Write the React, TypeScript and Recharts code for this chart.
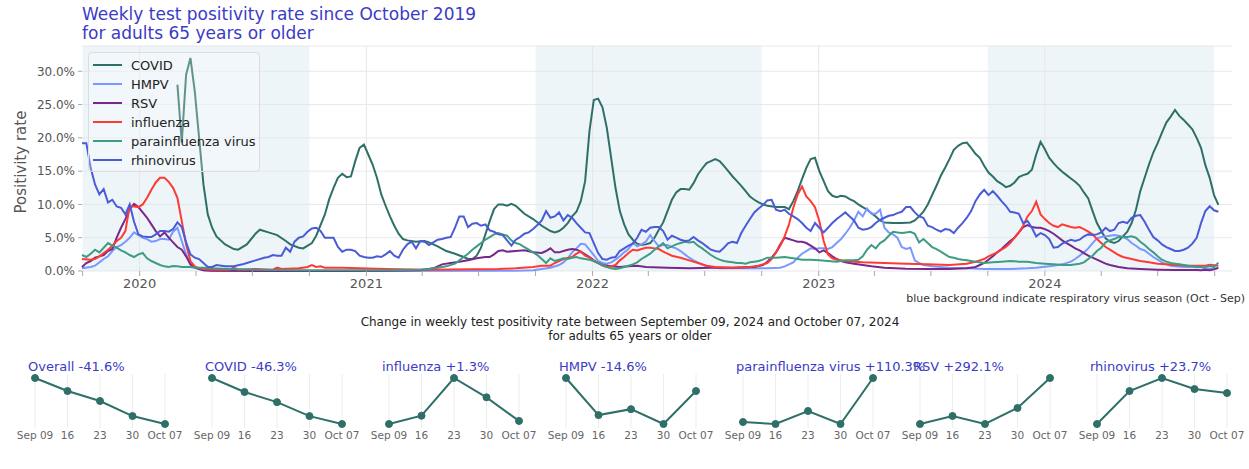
import { LineChart, Line, XAxis, YAxis, CartesianGrid, ReferenceArea, ReferenceLine } from 'recharts';

// weekly data, x = weeks since Monday 2019-09-30, y = positivity rate in %
const covid: [number, number][] = [
  [22, 28.0], [23, 19.3], [24, 29.5], [25, 32.0], [26, 27.0], [27, 20.0], [28, 13.0], [29, 8.5], [30, 6.5], [31, 5.2],
  [33, 4.0], [35, 3.3], [36, 3.2], [38, 4.0], [40, 5.6], [41, 6.2], [43, 5.8], [45, 5.4], [47, 4.5], [48, 4.0],
  [50, 3.5], [51, 3.4], [53, 4.2], [54, 5.3], [56, 8.5], [57, 10.8], [58, 12.5], [59, 14.0], [60, 14.6], [61, 14.1],
  [62, 14.2], [63, 16.5], [64, 18.5], [65, 19.0], [66, 17.5], [67, 16.0], [68, 14.0], [69, 11.5], [70, 9.8], [71, 8.2],
  [72, 6.8], [73, 5.6], [74, 4.8], [75, 4.6], [77, 4.4], [79, 4.5], [80, 4.3], [82, 3.7], [84, 3.0], [86, 2.6],
  [88, 2.1], [89, 1.8], [90, 1.8], [91, 2.3], [92, 3.5], [93, 5.5], [94, 7.5], [95, 9.3], [96, 10.0], [97, 10.0],
  [98, 9.8], [99, 10.1], [100, 9.8], [101, 9.2], [102, 8.6], [104, 7.8], [106, 6.8], [108, 6.0], [109, 5.8], [110, 6.0],
  [111, 6.5], [112, 7.2], [113, 8.2], [114, 8.9], [115, 10.5], [116, 13.5], [117, 21.0], [118, 25.7], [119, 25.9], [120, 24.6],
  [121, 21.5], [122, 17.0], [123, 12.5], [124, 9.0], [125, 7.0], [126, 5.5], [127, 4.7], [128, 4.1], [129, 3.9], [130, 4.0],
  [131, 4.2], [132, 5.0], [133, 6.2], [134, 7.3], [135, 9.0], [136, 10.7], [137, 11.8], [138, 12.3], [139, 12.3], [140, 12.2],
  [141, 13.2], [142, 14.5], [143, 15.4], [144, 16.2], [145, 16.5], [146, 16.8], [147, 16.5], [148, 15.8], [149, 15.0], [150, 14.2],
  [151, 13.5], [152, 12.8], [153, 12.0], [154, 11.2], [155, 10.7], [156, 10.3], [157, 10.0], [158, 9.8], [160, 9.6], [162, 9.6],
  [163, 9.3], [164, 10.5], [165, 12.0], [166, 13.8], [167, 15.5], [168, 16.8], [169, 17.0], [170, 15.0], [171, 13.5], [172, 12.0],
  [173, 11.3], [174, 11.1], [175, 11.3], [176, 11.2], [177, 10.8], [178, 10.5], [179, 10.0], [180, 9.6], [181, 9.2], [182, 8.7],
  [183, 8.2], [184, 7.6], [185, 7.3], [187, 7.2], [189, 7.2], [191, 7.3], [192, 7.6], [193, 8.2], [194, 8.9], [195, 10.0],
  [196, 11.4], [197, 12.8], [198, 14.3], [199, 15.5], [200, 16.8], [201, 18.2], [202, 18.8], [203, 19.2], [204, 19.3], [205, 18.5],
  [206, 17.6], [207, 17.0], [208, 15.8], [209, 14.8], [210, 14.2], [211, 13.5], [212, 13.1], [213, 12.6], [214, 12.8], [215, 13.3],
  [216, 14.1], [217, 14.4], [218, 14.6], [219, 15.2], [220, 17.5], [221, 19.4], [222, 18.3], [223, 17.0], [224, 16.2], [225, 15.5],
  [226, 14.9], [227, 14.4], [228, 13.9], [229, 13.4], [230, 12.8], [231, 11.8], [232, 10.9], [233, 9.0], [234, 7.2], [235, 6.0],
  [236, 4.9], [237, 4.4], [238, 4.2], [239, 4.5], [240, 5.2], [241, 5.9], [242, 7.2], [243, 9.2], [244, 12.0], [245, 14.0],
  [246, 16.0], [247, 17.8], [248, 19.2], [249, 20.8], [250, 22.3], [251, 23.2], [252, 24.2], [253, 23.3], [254, 22.7], [255, 22.0],
  [256, 21.3], [257, 20.0], [258, 18.5], [259, 15.9], [260, 14.0], [261, 11.4], [262, 9.93],
];

const hmpv: [number, number][] = [
  [0, 0.4], [2, 0.6], [3, 0.8], [4, 1.3], [5, 1.8], [6, 2.2], [7, 3.0], [8, 3.6], [9, 3.9], [10, 4.4],
  [11, 5.0], [12, 5.8], [13, 5.4], [14, 5.0], [15, 4.8], [16, 4.4], [17, 4.5], [18, 4.8], [19, 4.8], [20, 4.7],
  [21, 5.9], [22, 6.5], [23, 4.5], [24, 2.5], [25, 1.0], [26, 0.5], [27, 0.3], [28, 0.1], [30, 0.05], [60, 0.0],
  [100, 0.05], [104, 0.1], [106, 0.3], [108, 0.5], [110, 0.9], [111, 1.3], [112, 1.9], [113, 2.8], [114, 3.4], [115, 4.1],
  [116, 4.0], [117, 3.2], [118, 2.4], [119, 1.5], [120, 1.2], [121, 1.1], [122, 1.3], [123, 1.7], [124, 2.2], [125, 2.8],
  [126, 3.3], [127, 4.2], [128, 3.7], [129, 4.0], [130, 4.4], [131, 5.4], [132, 4.5], [133, 3.7], [134, 3.9], [135, 3.9],
  [136, 3.6], [137, 3.4], [138, 3.0], [139, 2.5], [140, 2.0], [141, 1.6], [142, 1.3], [143, 1.0], [144, 0.7], [145, 0.6],
  [147, 0.4], [150, 0.4], [155, 0.4], [158, 0.4], [161, 0.5], [162, 0.7], [163, 1.0], [164, 1.3], [165, 2.0], [166, 2.6],
  [167, 3.0], [168, 3.4], [169, 3.3], [170, 3.4], [171, 3.4], [172, 3.3], [173, 3.6], [174, 4.2], [175, 4.8], [176, 5.6],
  [177, 6.5], [178, 7.6], [179, 8.9], [180, 8.2], [181, 9.4], [182, 8.6], [183, 8.6], [184, 9.2], [185, 6.5], [186, 5.8],
  [187, 5.5], [188, 5.0], [189, 3.6], [190, 3.3], [191, 3.5], [192, 1.6], [193, 1.2], [194, 0.9], [196, 0.7], [198, 0.6],
  [200, 0.5], [204, 0.4], [208, 0.3], [214, 0.3], [218, 0.4], [220, 0.5], [224, 0.8], [226, 1.0], [228, 1.4], [229, 1.8],
  [230, 2.3], [231, 2.8], [232, 3.4], [233, 4.2], [234, 4.9], [235, 5.1], [236, 5.2], [237, 5.3], [238, 5.4], [239, 5.3],
  [240, 5.1], [241, 4.8], [242, 4.2], [243, 3.8], [244, 3.3], [245, 3.1], [246, 2.6], [247, 2.1], [248, 1.7], [249, 1.3],
  [250, 1.0], [251, 0.8], [252, 0.7], [254, 0.6], [256, 0.6], [257, 0.55], [258, 0.6], [259, 0.35], [260, 0.39], [261, 0.29],
  [262, 0.512],
];

const rsv: [number, number][] = [
  [0, 0.6], [1, 1.2], [2, 1.5], [3, 2.0], [4, 2.2], [5, 2.4], [6, 3.0], [7, 3.3], [8, 5.0], [9, 6.5],
  [10, 7.8], [11, 9.3], [12, 10.1], [13, 9.6], [14, 8.8], [15, 8.0], [16, 7.0], [17, 6.0], [18, 5.2], [19, 5.8],
  [20, 5.0], [21, 4.3], [22, 3.6], [23, 3.2], [24, 2.2], [25, 1.0], [26, 0.5], [27, 0.3], [28, 0.1], [30, 0.05],
  [40, 0.0], [60, 0.0], [70, 0.05], [78, 0.1], [81, 0.4], [83, 1.0], [85, 1.2], [87, 1.4], [89, 1.6], [91, 1.9],
  [93, 2.1], [94, 2.1], [95, 2.5], [96, 3.0], [97, 3.1], [98, 2.9], [100, 3.0], [102, 3.1], [104, 2.8], [106, 2.7],
  [107, 3.0], [108, 3.4], [109, 2.8], [110, 2.8], [111, 3.0], [112, 3.2], [113, 3.3], [114, 3.2], [115, 2.9], [116, 2.5],
  [117, 2.1], [118, 1.6], [119, 1.2], [120, 0.9], [122, 0.7], [124, 0.6], [126, 0.7], [128, 0.8], [130, 0.6], [135, 0.5],
  [140, 0.4], [145, 0.5], [150, 0.5], [155, 0.6], [157, 0.9], [158, 1.4], [159, 2.0], [160, 2.8], [161, 4.0], [162, 5.0],
  [163, 4.8], [164, 4.6], [165, 4.4], [166, 4.4], [167, 4.2], [168, 3.8], [169, 3.4], [170, 2.8], [171, 3.1], [172, 2.7],
  [173, 2.2], [174, 1.8], [175, 1.5], [176, 1.3], [178, 1.1], [180, 0.9], [182, 0.7], [185, 0.5], [190, 0.35], [195, 0.3],
  [200, 0.3], [204, 0.4], [206, 0.6], [207, 0.9], [208, 1.2], [209, 1.7], [210, 2.2], [211, 2.8], [212, 3.3], [213, 3.9],
  [214, 4.5], [215, 5.0], [216, 5.8], [217, 6.6], [218, 6.9], [219, 6.6], [220, 6.5], [221, 6.5], [222, 6.3], [223, 6.0],
  [224, 5.6], [225, 5.1], [226, 4.6], [227, 4.2], [228, 3.8], [229, 3.4], [230, 3.1], [231, 2.7], [232, 2.3], [233, 2.0],
  [234, 1.7], [235, 1.4], [236, 1.1], [237, 0.9], [239, 0.6], [241, 0.4], [244, 0.3], [248, 0.2], [252, 0.15], [256, 0.15],
  [257, 0.15], [258, 0.12], [259, 0.181], [260, 0.12], [261, 0.242], [262, 0.47],
];

const influenza: [number, number][] = [
  [0, 1.8], [2, 1.7], [3, 1.8], [4, 2.2], [5, 2.7], [6, 3.2], [7, 3.8], [8, 4.5], [9, 5.0], [10, 6.0],
  [11, 9.8], [12, 9.7], [13, 9.6], [14, 10.0], [15, 11.0], [16, 12.2], [17, 13.3], [18, 14.0], [19, 14.0], [20, 13.4],
  [21, 12.5], [22, 11.0], [23, 7.5], [24, 4.0], [25, 1.5], [26, 0.7], [27, 0.4], [28, 0.3], [30, 0.2], [34, 0.2],
  [35, 0.5], [36, 0.2], [40, 0.3], [44, 0.2], [45, 0.5], [46, 0.3], [50, 0.4], [52, 0.6], [53, 0.9], [54, 0.6],
  [55, 0.7], [56, 0.5], [60, 0.5], [64, 0.4], [70, 0.3], [80, 0.2], [90, 0.25], [96, 0.3], [100, 0.4], [104, 0.6],
  [106, 0.8], [108, 0.8], [109, 1.2], [111, 1.8], [113, 2.1], [114, 2.6], [115, 2.9], [116, 2.3], [117, 2.0], [118, 1.5],
  [119, 1.2], [120, 0.8], [121, 0.6], [122, 0.7], [123, 0.9], [124, 1.6], [125, 2.1], [126, 2.7], [127, 3.2], [128, 3.1],
  [129, 3.3], [130, 3.5], [131, 3.5], [132, 3.4], [133, 3.3], [134, 2.9], [135, 2.6], [136, 2.3], [138, 2.0], [140, 1.6],
  [142, 1.2], [144, 0.8], [146, 0.6], [150, 0.5], [154, 0.6], [156, 0.8], [158, 1.2], [159, 1.8], [160, 2.8], [161, 3.8],
  [162, 5.2], [163, 7.0], [164, 9.5], [165, 11.5], [166, 12.7], [167, 11.2], [168, 10.5], [169, 9.6], [170, 7.5], [171, 4.5],
  [172, 2.5], [173, 1.9], [174, 1.7], [176, 1.5], [178, 1.4], [180, 1.3], [185, 1.2], [190, 1.1], [195, 1.0], [200, 0.9],
  [204, 1.1], [206, 1.4], [207, 1.6], [208, 1.8], [209, 2.2], [210, 2.5], [211, 2.8], [212, 3.2], [213, 3.6], [214, 4.2],
  [215, 5.0], [216, 5.8], [217, 6.8], [218, 8.2], [219, 9.0], [220, 10.4], [221, 8.5], [222, 7.8], [223, 7.2], [224, 6.8],
  [225, 6.6], [226, 7.0], [227, 6.8], [228, 6.6], [229, 6.5], [230, 6.6], [231, 6.3], [232, 5.9], [233, 5.5], [234, 4.8],
  [235, 4.2], [236, 3.6], [237, 3.2], [238, 2.8], [239, 2.4], [240, 2.1], [242, 1.8], [244, 1.5], [246, 1.3], [248, 1.1],
  [250, 1.0], [252, 0.9], [255, 0.8], [257, 0.8], [258, 0.78], [259, 0.807], [260, 0.93], [261, 0.867], [262, 0.79],
];

const parainfluenza: [number, number][] = [
  [0, 2.4], [1, 2.1], [2, 2.6], [3, 3.2], [4, 2.8], [5, 3.5], [6, 4.2], [7, 3.8], [8, 3.5], [9, 3.1],
  [10, 2.8], [11, 2.4], [12, 2.1], [13, 2.5], [14, 2.7], [15, 1.9], [16, 1.5], [17, 1.2], [18, 0.9], [19, 0.7],
  [20, 0.6], [21, 0.75], [22, 0.7], [23, 0.6], [25, 0.6], [26, 0.5], [28, 0.5], [30, 0.4], [34, 0.3], [40, 0.2],
  [50, 0.1], [60, 0.1], [70, 0.1], [78, 0.2], [80, 0.3], [82, 0.5], [84, 0.7], [86, 1.1], [87, 1.6], [88, 2.1],
  [89, 2.6], [90, 3.2], [91, 3.7], [92, 4.2], [93, 4.7], [94, 5.1], [95, 5.5], [96, 5.7], [97, 5.5], [98, 5.3],
  [99, 4.6], [100, 4.2], [101, 4.0], [102, 3.6], [103, 3.2], [104, 2.8], [105, 2.4], [106, 1.8], [107, 1.2], [108, 1.9],
  [109, 1.5], [110, 1.7], [111, 1.9], [112, 1.8], [113, 2.0], [114, 2.1], [115, 1.9], [116, 1.8], [117, 1.7], [118, 1.5],
  [119, 1.2], [120, 0.9], [121, 0.6], [122, 0.4], [123, 0.3], [124, 0.4], [125, 0.6], [126, 0.8], [127, 1.0], [128, 1.3],
  [129, 1.8], [130, 2.2], [131, 2.6], [132, 3.2], [133, 3.7], [134, 4.2], [135, 3.4], [136, 3.7], [137, 4.0], [138, 4.2],
  [139, 4.4], [140, 4.3], [141, 4.4], [142, 3.8], [143, 3.4], [144, 2.9], [145, 2.4], [146, 2.0], [147, 1.7], [148, 1.5],
  [149, 1.4], [150, 1.3], [151, 1.2], [152, 1.2], [153, 1.1], [154, 1.3], [155, 1.4], [156, 1.5], [157, 1.7], [158, 2.0],
  [160, 2.0], [162, 2.1], [164, 1.9], [166, 1.7], [168, 1.7], [170, 1.6], [172, 1.5], [174, 1.4], [176, 1.6], [178, 1.6],
  [179, 1.7], [180, 2.2], [181, 3.2], [182, 3.9], [183, 3.4], [184, 4.2], [185, 4.6], [186, 5.3], [187, 5.9], [188, 5.8],
  [189, 5.7], [190, 5.8], [191, 5.9], [192, 5.6], [193, 4.3], [194, 4.8], [195, 4.2], [196, 3.6], [197, 3.3], [198, 2.9],
  [199, 2.5], [200, 2.1], [201, 2.0], [202, 1.8], [203, 1.7], [204, 1.6], [205, 1.5], [206, 1.4], [208, 1.2], [210, 1.3],
  [212, 1.4], [214, 1.5], [216, 1.4], [218, 1.4], [220, 1.2], [222, 1.1], [224, 1.0], [226, 0.9], [228, 0.9], [230, 1.1],
  [231, 1.3], [232, 1.8], [233, 2.3], [234, 3.0], [235, 3.5], [236, 4.3], [237, 4.6], [238, 4.8], [239, 5.1], [240, 5.1],
  [241, 5.1], [242, 5.2], [243, 5.0], [244, 4.4], [245, 3.9], [246, 3.3], [247, 2.8], [248, 2.2], [249, 1.7], [250, 1.4],
  [251, 1.2], [252, 1.1], [253, 1.0], [254, 0.9], [255, 0.8], [256, 0.7], [257, 0.65], [258, 0.6], [259, 0.57], [260, 0.77],
  [261, 0.57], [262, 1.26],
];

const rhinovirus: [number, number][] = [
  [0, 19.2], [1, 19.2], [2, 15.5], [3, 13.0], [4, 11.5], [5, 12.3], [6, 10.3], [7, 10.7], [8, 9.7], [9, 9.5],
  [10, 8.5], [11, 10.0], [12, 7.4], [13, 5.5], [14, 5.2], [15, 5.1], [16, 5.1], [17, 5.5], [18, 6.0], [19, 6.0],
  [20, 5.9], [21, 6.3], [22, 7.3], [23, 6.6], [24, 4.3], [25, 2.5], [26, 2.0], [27, 1.8], [28, 1.2], [29, 0.6],
  [30, 0.6], [31, 0.9], [33, 0.7], [35, 0.7], [37, 1.0], [38, 1.2], [40, 1.6], [42, 2.0], [43, 2.1], [44, 2.4],
  [45, 2.3], [46, 2.3], [47, 3.5], [48, 2.9], [49, 4.4], [50, 5.0], [51, 5.2], [52, 5.9], [53, 6.4], [54, 6.5],
  [55, 6.0], [56, 5.0], [57, 5.0], [58, 5.0], [59, 3.6], [60, 2.9], [61, 3.2], [62, 3.2], [63, 3.0], [64, 2.3],
  [65, 2.1], [66, 2.0], [67, 2.0], [68, 2.2], [69, 2.1], [70, 2.5], [71, 3.0], [72, 2.3], [73, 2.0], [74, 3.2],
  [75, 4.0], [76, 4.4], [77, 3.4], [78, 4.5], [79, 4.4], [80, 3.9], [81, 4.3], [82, 4.7], [83, 4.8], [84, 5.0],
  [85, 5.1], [86, 6.5], [87, 8.2], [88, 8.2], [89, 6.6], [90, 7.1], [91, 7.2], [92, 6.8], [93, 7.0], [94, 6.1],
  [95, 5.9], [96, 5.5], [97, 5.4], [98, 4.6], [99, 3.8], [100, 4.7], [101, 5.1], [102, 5.6], [103, 5.8], [104, 6.3],
  [105, 6.9], [106, 7.6], [107, 9.0], [108, 8.0], [109, 8.2], [110, 8.8], [111, 7.6], [112, 8.4], [113, 8.0], [114, 7.2],
  [115, 6.5], [116, 5.8], [117, 5.7], [118, 4.2], [119, 2.7], [120, 1.8], [121, 1.7], [122, 2.0], [123, 2.1], [124, 3.0],
  [125, 3.4], [126, 3.8], [127, 4.1], [128, 5.0], [129, 6.2], [130, 5.9], [131, 6.5], [132, 6.6], [133, 6.6], [134, 6.0],
  [135, 4.7], [136, 5.3], [137, 5.0], [138, 4.7], [139, 4.5], [140, 4.6], [141, 5.1], [142, 4.6], [143, 4.2], [144, 3.7],
  [145, 3.2], [146, 3.0], [147, 2.9], [148, 3.5], [149, 4.2], [150, 4.4], [151, 4.2], [152, 5.7], [153, 6.8], [154, 7.8],
  [155, 8.8], [156, 9.4], [157, 9.9], [158, 10.6], [159, 10.7], [160, 9.2], [161, 9.0], [162, 9.2], [163, 8.6], [164, 8.2],
  [165, 7.8], [166, 7.2], [167, 6.5], [168, 6.0], [169, 7.2], [170, 6.5], [171, 5.8], [172, 6.5], [173, 7.2], [174, 7.8],
  [175, 8.3], [176, 8.8], [177, 8.2], [178, 7.6], [179, 6.5], [180, 6.2], [181, 6.3], [182, 6.6], [183, 7.2], [184, 7.7],
  [185, 8.0], [186, 8.3], [187, 8.4], [188, 8.7], [189, 8.9], [190, 9.6], [191, 9.6], [192, 8.8], [193, 8.2], [194, 8.0],
  [195, 6.8], [196, 6.6], [197, 6.2], [198, 5.9], [199, 6.3], [200, 6.2], [201, 5.7], [202, 6.5], [203, 7.2], [204, 8.0],
  [205, 9.0], [206, 10.5], [207, 11.5], [208, 12.2], [209, 11.4], [210, 12.0], [211, 11.3], [212, 10.5], [213, 9.8], [214, 8.9],
  [215, 8.8], [216, 8.6], [217, 7.2], [218, 7.5], [219, 6.5], [220, 5.2], [221, 5.7], [222, 5.4], [223, 4.8], [224, 3.5],
  [225, 3.6], [226, 4.1], [227, 4.4], [228, 4.7], [229, 4.5], [230, 4.7], [231, 5.2], [232, 5.5], [233, 5.4], [234, 5.5],
  [235, 5.8], [236, 6.5], [237, 6.0], [238, 6.2], [239, 7.2], [240, 7.4], [241, 7.2], [242, 8.0], [243, 8.3], [244, 8.4],
  [245, 7.4], [246, 6.2], [247, 5.1], [248, 4.6], [249, 4.0], [250, 3.6], [251, 3.3], [252, 3.0], [253, 3.0], [254, 3.2],
  [255, 3.5], [256, 4.1], [257, 5.0], [258, 7.19], [259, 9.01], [260, 9.73], [261, 9.12], [262, 8.9],
];

const seriesNames = ['COVID', 'HMPV', 'RSV', 'influenza', 'parainfluenza virus', 'rhinovirus'];
const seriesColors = ['#2e6f68', '#7b98ff', '#78288a', '#ff3a33', '#3f9c83', '#4a5bd8'];
const seriesData = [covid, hmpv, rsv, influenza, parainfluenza, rhinovirus];

const quarterTicks = [
  '2019-10-01', '2020-01-01', '2020-04-01', '2020-07-01', '2020-10-01', '2021-01-01', '2021-04-01',
  '2021-07-01', '2021-10-01', '2022-01-01', '2022-04-01', '2022-07-01', '2022-10-01', '2023-01-01',
  '2023-04-01', '2023-07-01', '2023-10-01', '2024-01-01', '2024-04-01', '2024-07-01', '2024-10-01',
];
const yearTicks = ['2020-01-01', '2021-01-01', '2022-01-01', '2023-01-01', '2024-01-01'];
const seasons = [['2019-10-01', '2020-10-01'], ['2021-10-01', '2022-10-01'], ['2023-10-01', '2024-09-30']];
const yTicks = [0, 5, 10, 15, 20, 25, 30];

// small multiples: Sep 09 .. Oct 07 2024
const smallLabels = ['Sep 09', '16', '23', '30', 'Oct 07'];
const panelTitles = ['Overall -41.6%', 'COVID -46.3%', 'influenza +1.3%', 'HMPV -14.6%', 'parainfluenza virus +110.3%', 'RSV +292.1%', 'rhinovirus +23.7%'];
const overallChange = [10.0, 8.82, 7.92, 6.56, 5.84];
const covidChange = [18.5, 15.9, 14.0, 11.4, 9.93];
const fluChange = [0.78, 0.807, 0.93, 0.867, 0.79];
const hmpvChange = [0.6, 0.35, 0.39, 0.29, 0.512];
const paraChange = [0.6, 0.57, 0.766, 0.57, 1.262];
const rsvChange = [0.12, 0.181, 0.12, 0.242, 0.47];
const rhinoChange = [7.19, 9.01, 9.73, 9.12, 8.9];
const panelValues = [overallChange, covidChange, fluChange, hmpvChange, paraChange, rsvChange, rhinoChange];

const TITLE_BLUE = '#3b3bc6';
const TEAL = '#2e6f68';
const START = Date.UTC(2019, 8, 30);
const wk = (d: string) => (Date.parse(d) - START) / (7 * 86400000);
const yearOf = new Map(yearTicks.map((d) => [wk(d), d.slice(0, 4)]));

function SmallPanel({ title, values, index }: { title: string; values: number[]; index: number }) {
  const data = values.map((v, i) => ({ i, v }));
  const lo = Math.min(...values);
  const hi = Math.max(...values);
  const pad = ((hi - lo) * 4) / 46;
  return (
    <div style={{ position: 'absolute', left: 177 * index, top: 355, width: 200, height: 94 }}>
      <LineChart width={200} height={94} data={data} margin={{ top: 19, right: 35, left: 35, bottom: 0 }}>
        <CartesianGrid horizontal={false} stroke="#ececec" />
        <XAxis
          dataKey="i"
          type="number"
          domain={[0, 4]}
          ticks={[0, 1, 2, 3, 4]}
          interval={0}
          tickFormatter={(i: number) => smallLabels[i]}
          axisLine={false}
          tickLine={false}
          tickSize={0}
          tickMargin={4}
          height={21}
          tick={{ fontSize: 10.5, fill: '#666' }}
        />
        <YAxis hide domain={[lo - pad, hi + pad]} />
        <Line
          dataKey="v"
          type="linear"
          stroke={TEAL}
          strokeWidth={2}
          dot={{ r: 3.5, fill: TEAL, stroke: TEAL, strokeWidth: 1 }}
          isAnimationActive={false}
        />
      </LineChart>
      <div style={{ position: 'absolute', left: 28, top: 4, fontSize: 13, lineHeight: '15px', color: TITLE_BLUE, whiteSpace: 'nowrap' }}>
        {title}
      </div>
    </div>
  );
}

export default function App() {
  return (
    <div style={{ position: 'absolute', left: 0, top: 0, width: 1249, height: 469, background: '#fff', fontFamily: '"DejaVu Sans", sans-serif' }}>
      <div style={{ position: 'absolute', left: 82, top: 5, fontSize: 17, lineHeight: '19px', color: TITLE_BLUE }}>
        Weekly test positivity rate since October 2019
        <br />
        for adults 65 years or older
      </div>
      <div style={{ position: 'absolute', left: -79, top: 153, width: 200, height: 18, lineHeight: '18px', textAlign: 'center', fontSize: 15, color: '#555', transform: 'rotate(-90deg)' }}>
        Positivity rate
      </div>
      <div style={{ position: 'absolute', left: 0, top: 0 }}>
        <LineChart width={1249} height={300} margin={{ top: 46, right: 17, left: 0, bottom: 4 }}>
          {seasons.map(([a, b]) => (
            <ReferenceArea key={a} x1={wk(a)} x2={wk(b)} y1={0} y2={33.8} fill="#d7e9f2" fillOpacity={0.45} stroke="none" ifOverflow="hidden" />
          ))}
          <CartesianGrid vertical={false} stroke="#e9e9e9" />
          {yearTicks.map((d) => (
            <ReferenceLine key={d} x={wk(d)} stroke="#e6e6e6" />
          ))}
          <XAxis
            dataKey="w"
            type="number"
            domain={[wk('2019-10-01'), wk('2024-10-29')]}
            ticks={quarterTicks.map(wk)}
            interval={0}
            tickFormatter={(w: number) => yearOf.get(w) ?? ''}
            axisLine={false}
            tickLine={{ stroke: '#aaa' }}
            tickSize={5}
            tickMargin={3}
            height={25}
            tick={{ fontSize: 13, fill: '#555' }}
          />
          <YAxis
            type="number"
            domain={[0, 33.8]}
            ticks={yTicks}
            tickFormatter={(v: number) => `${v.toFixed(1)}%`}
            axisLine={false}
            tickLine={{ stroke: '#aaa' }}
            tickSize={4}
            tickMargin={3}
            width={82}
            tick={{ fontSize: 12, fill: '#555' }}
          />
          {seriesData.map((s, i) => (
            <Line
              key={seriesNames[i]}
              name={seriesNames[i]}
              data={s.map(([w, v]) => ({ w, v }))}
              dataKey="v"
              type="linear"
              stroke={seriesColors[i]}
              strokeWidth={2}
              dot={false}
              isAnimationActive={false}
            />
          ))}
        </LineChart>
      </div>
      <div style={{ position: 'absolute', left: 88, top: 52, width: 170, height: 118, border: '1px solid #dcdcdc', borderRadius: 4, background: 'rgba(255,255,255,0.25)' }}>
        {seriesNames.map((n, i) => (
          <div key={n} style={{ position: 'absolute', left: 4, top: 3 + i * 19, height: 18, display: 'flex', alignItems: 'center', whiteSpace: 'nowrap' }}>
            <span style={{ display: 'inline-block', width: 29, height: 2, background: seriesColors[i], marginRight: 9 }} />
            <span style={{ fontSize: 13, color: '#222' }}>{n}</span>
          </div>
        ))}
      </div>
      <div style={{ position: 'absolute', right: 4, top: 292, fontSize: 11, color: '#333', whiteSpace: 'nowrap' }}>
        blue background indicate respiratory virus season (Oct - Sep)
      </div>
      <div style={{ position: 'absolute', left: 0, top: 315, width: 1260, textAlign: 'center', fontSize: 12, lineHeight: '14px', color: '#222' }}>
        Change in weekly test positivity rate between September 09, 2024 and October 07, 2024
        <br />
        for adults 65 years or older
      </div>
      {panelTitles.map((t, i) => (
        <SmallPanel key={t} title={t} values={panelValues[i]} index={i} />
      ))}
    </div>
  );
}
